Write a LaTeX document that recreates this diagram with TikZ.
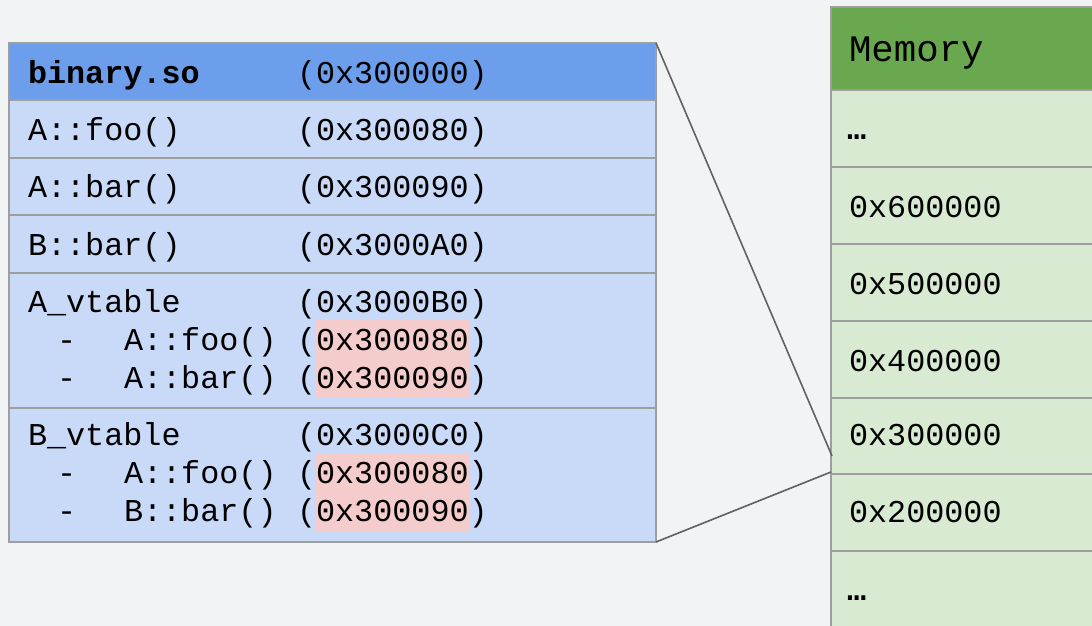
\documentclass[tikz,border=0pt]{standalone}
\usepackage{fontspec}
\setmonofont{Liberation Mono}
\definecolor{bg}{HTML}{F1F3F4}
\definecolor{hdrblue}{HTML}{6D9EEB}
\definecolor{rowblue}{HTML}{C9DAF8}
\definecolor{hlpink}{HTML}{F4CCCC}
\definecolor{hdrgreen}{HTML}{6AA84F}
\definecolor{rowgreen}{HTML}{D9EAD3}
\definecolor{rulegray}{HTML}{9E9E9E}
\definecolor{linkgray}{HTML}{5F6368}
\tikzset{
  cell/.style={draw=rulegray, line width=2pt, anchor=north west, inner sep=0pt, outer sep=0pt, minimum width=#1},
  symcell/.style={cell=647pt, fill=rowblue},
  memcell/.style={cell=300pt, fill=rowgreen, minimum height=77pt},
  txt/.style={anchor=base west, inner sep=0pt, outer sep=0pt, font=\ttfamily\fontsize{31.8pt}{38pt}\selectfont},
  bigtxt/.style={txt, font=\ttfamily\fontsize{37.4pt}{44pt}\selectfont},
  hl/.style={fill=hlpink, draw=none, anchor=north west, inner sep=0pt, minimum width=154pt, minimum height=78pt},
  link/.style={draw=linkgray, line width=1.6pt},
}
\begin{document}
\begin{tikzpicture}[x=1pt, y=-1pt]
  \useasboundingbox[fill=bg] (0,0) rectangle (1092,626);

  % symbol table of binary.so
  \node[symcell, fill=hdrblue, minimum height=57pt] (hdr) at (9,43) {};
  \node[symcell, minimum height=58pt] (afoo) at (9,100) {};
  \node[symcell, minimum height=57pt] (abar) at (9,158) {};
  \node[symcell, minimum height=58pt] (bbar) at (9,215) {};
  \node[symcell, minimum height=135pt] (avt) at (9,273) {};
  \node[symcell, minimum height=134pt] (bvt) at (9,408) {};

  % highlighted target addresses
  \node[hl] (avthl) at (315,319) {};
  \node[hl] (bvthl) at (315,454) {};

  \node[txt, font=\ttfamily\bfseries\fontsize{31.8pt}{38pt}\selectfont] (hdrname) at (28,83) {binary.so};
  \node[txt] (hdraddr) at (297,83) {(0x300000)};
  \node[txt] (afooname) at (28,140) {A::foo()};
  \node[txt] (afooaddr) at (297,140) {(0x300080)};
  \node[txt] (abarname) at (28,197) {A::bar()};
  \node[txt] (abaraddr) at (297,197) {(0x300090)};
  \node[txt] (bbarname) at (28,255) {B::bar()};
  \node[txt] (bbaraddr) at (297,255) {(0x3000A0)};

  \node[txt] (avtname) at (28,312) {A\_vtable};
  \node[txt] (avtaddr) at (297,312) {(0x3000B0)};
  \node[txt] (avtd1) at (57,350) {-};
  \node[txt] (avtf1) at (124,350) {A::foo()};
  \node[txt] (avta1) at (297,350) {(0x300080)};
  \node[txt] (avtd2) at (57,388) {-};
  \node[txt] (avtf2) at (124,388) {A::bar()};
  \node[txt] (avta2) at (297,388) {(0x300090)};

  \node[txt] (bvtname) at (28,445) {B\_vtable};
  \node[txt] (bvtaddr) at (297,445) {(0x3000C0)};
  \node[txt] (bvtd1) at (57,483) {-};
  \node[txt] (bvtf1) at (124,483) {A::foo()};
  \node[txt] (bvta1) at (297,483) {(0x300080)};
  \node[txt] (bvtd2) at (57,521) {-};
  \node[txt] (bvtf2) at (124,521) {B::bar()};
  \node[txt] (bvta2) at (297,521) {(0x300090)};

  % memory map
  \node[memcell, fill=hdrgreen, minimum height=83pt] (mhdr) at (831,7) {};
  \node[memcell] (mtop) at (831,90) {};
  \node[memcell] (m6) at (831,167) {};
  \node[memcell] (m5) at (831,244) {};
  \node[memcell] (m4) at (831,321) {};
  \node[memcell] (m3) at (831,398) {};
  \node[memcell] (m2) at (831,474) {};
  \node[memcell, minimum height=100pt] (mbot) at (831,551) {};

  \node[bigtxt] (memtitle) at (849,62) {Memory};
  \node[txt, font=\ttfamily\bfseries\fontsize{31.8pt}{38pt}\selectfont] (mtoptxt) at (847,139) {…};
  \node[txt] (m6txt) at (849,217) {0x600000};
  \node[txt] (m5txt) at (849,294) {0x500000};
  \node[txt] (m4txt) at (849,371) {0x400000};
  \node[txt] (m3txt) at (849,445) {0x300000};
  \node[txt] (m2txt) at (849,522) {0x200000};
  \node[txt, font=\ttfamily\bfseries\fontsize{31.8pt}{38pt}\selectfont] (mbottxt) at (847,600) {…};

  % mapping of binary.so into memory
  \coordinate (segtop) at (832,456);
  \coordinate (segbot) at (831,472);
  \draw[link] (hdr.north east) -- (segtop);
  \draw[link] (bvt.south east) -- (segbot);
\end{tikzpicture}
\end{document}
